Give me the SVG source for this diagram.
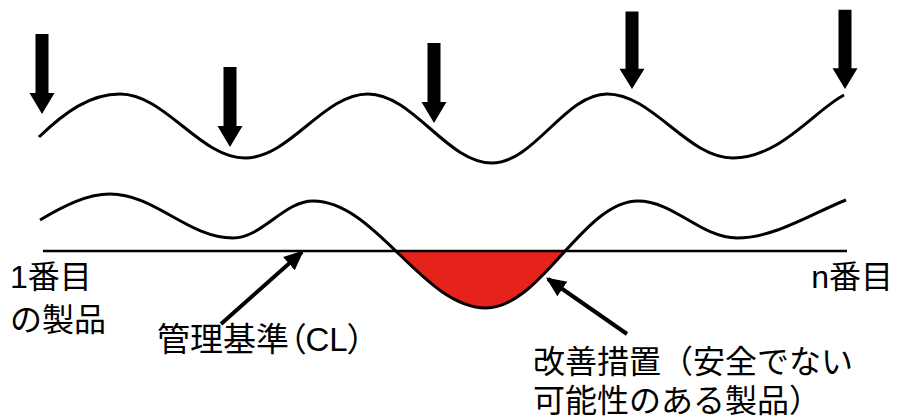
<svg xmlns="http://www.w3.org/2000/svg" xmlns:xlink="http://www.w3.org/1999/xlink" width="897" height="419" viewBox="0 0 897 419">
<style>
.wave{fill:none;stroke:#000;stroke-width:3;stroke-linecap:butt}
.cl{fill:none;stroke:#000;stroke-width:2.5}
.lbl{font-family:"Liberation Sans","Noto Sans CJK JP",sans-serif;font-size:32px;fill:#000}
.palt{font-feature-settings:"palt" 1;font-size:33px}
.ptr{fill:none;stroke:#000;stroke-width:4}
.red{fill:#e5221b}
</style>
<defs>
<path id="darrow" d="M-6.5,-80 H6.5 V-21 H12.5 L0,0 L-12.5,-21 H-6.5 Z" fill="#000"/>
<marker id="ah" markerUnits="userSpaceOnUse" markerWidth="20" markerHeight="20" refX="14" refY="7" orient="auto" viewBox="0 0 16 14">
<path d="M0,0 L16,7 L0,14 Z" fill="#000"/>
</marker>
<clipPath id="below"><rect x="380" y="251" width="200" height="70"/></clipPath>
</defs>
<g id="red-area">
<path class="red" clip-path="url(#below)" d="M313,201 C376,201 423,308 486,308 C541,308 583,201 638,201 Z"/>
</g>
<g id="top-wave">
<path class="wave" d="M39,137 C65,112 90,94 120,94 C165,94 200,158 245,158 C290,158 323,94 368,94 C413,94 447,163 492,163 C534,163 565,94 607,94 C653,94 687,158 733,158 C780,158 815,110 844,95"/>
</g>
<g id="bottom-wave">
<path class="wave" d="M40,220 C65,205 88,194 110,194 C155,194 188,238 233,238 C262,238 284,201 313,201 C376,201 423,308 486,308 C541,308 583,201 638,201 C674,201 701,238 737,238 C775,238 815,212 846,200"/>
</g>
<g id="cl-line">
<path class="cl" d="M43,251 H847"/>
</g>
<g id="down-arrows">
<use xlink:href="#darrow" transform="translate(42,114)"/>
<use xlink:href="#darrow" transform="translate(230,147)"/>
<use xlink:href="#darrow" transform="translate(434,123)"/>
<use xlink:href="#darrow" transform="translate(632,89) scale(1,0.97)"/>
<use xlink:href="#darrow" transform="translate(845,89) scale(1,0.99)"/>
</g>
<g id="connectors">
<path class="ptr" marker-end="url(#ah)" d="M221,324 L302,252"/>
<path class="ptr" marker-end="url(#ah)" d="M627,334 L548,279"/>
</g>
<g id="label-first">
<text class="lbl" x="10" y="288">1番目</text>
<text class="lbl" x="10" y="331">の製品</text>
</g>
<g id="label-n">
<text class="lbl" x="893" y="288" text-anchor="end">n番目</text>
</g>
<g id="label-cl">
<text class="lbl palt" x="157" y="351">管理基準（CL）</text>
</g>
<g id="label-action">
<text class="lbl" x="533" y="373">改善措置（安全でない</text>
<text class="lbl" x="533" y="412">可能性のある製品）</text>
</g>
</svg>
